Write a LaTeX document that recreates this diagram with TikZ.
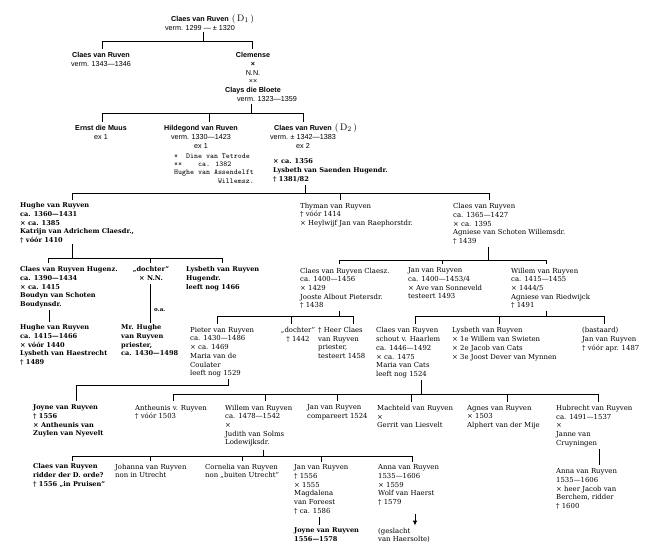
\documentclass[tikz,border=0pt]{standalone}
\usepackage{fontspec}
\usetikzlibrary{arrows.meta,calc}
\newfontfamily\asans{Liberation Sans}
\newfontfamily\dser{DejaVu Serif}
\newcommand\dmark[1]{\rlap{\smash{\rmfamily\fontsize{9.5}{10}\selectfont\ $(\,\mathrm{D}_{#1}\,)$}}}
\begin{document}
\begin{tikzpicture}[x=1pt,y=-1pt,
  lk/.style={line width=1pt},
  sa/.style={inner sep=0pt,anchor=north,align=center,font=\asans\fontsize{7.2}{8.8}\selectfont},
  se/.style={inner sep=0pt,anchor=north west,align=left,font=\dser\fontsize{6.9}{8.7}\selectfont},
  seb/.style={se,font=\dser\bfseries\fontsize{6.6}{8.7}\selectfont},
  mo/.style={inner sep=0pt,anchor=north west,align=left,font=\ttfamily\fontsize{7.5}{8.4}\selectfont},
]
\useasboundingbox (0,0) rectangle (651,554);
\fill[white] (0,0) rectangle (651,554);

% ---- early generations (sans)
\node[sa] (d1) at (200,16) {\textbf{Claes van Ruven}\dmark{1}\\verm. 1299 — ± 1320};
\node[sa] (c1343) at (101,52) {\textbf{Claes van Ruven}\\verm. 1343—1346};
\node[sa] (clem) at (253,52) {\textbf{Clemense}\\\textbf{×}\\N.N.\\××\\\textbf{Clays die Bloete}\\\hspace*{28pt}verm. 1323—1359};
\node[sa] (ernst) at (101,125) {\textbf{Ernst die Muus}\\ex 1};
\node[sa] (hild) at (201,125) {\textbf{Hildegond van Ruven}\\verm. 1330—1423\\ex 1};
\node[sa] (d2) at (303,125) {\textbf{Claes van Ruven}\dmark{2}\\verm. ± 1342—1383\\ex 2};
\node[mo] (hmar) at (174,153.4) {×~~Dine van Tetrode\\××~~~~ca. 1382\\Hughe van Assendelft\\~~~~~~~~~~~Willemsz.};
\node[seb] (d2m) at (273,158.6) {× ca. 1356\\Lysbeth van Saenden Hugendr.\\† 1381/82};

% ---- later generations (serif)
\node[seb] (hughe1) at (20,202.6) {Hughe van Ruyven\\ca. 1360—1431\\× ca. 1385\\Katrijn van Adrichem Claesdr.,\\† vóór 1410};
\node[se] (thyman) at (300,202.6) {Thyman van Ruyven\\† vóór 1414\\× Heylwijf Jan van Raephorstdr.};
\node[se] (claes65) at (453,203.4) {Claes van Ruyven\\ca. 1365—1427\\× ca. 1395\\Agniese van Schoten Willemsdr.\\† 1439};

\node[seb] (claesH) at (20,266.6) {Claes van Ruyven Hugenz.\\ca. 1390—1434\\× ca. 1415\\Boudyn van Schoten\\Boudynsdr.};
\node[seb,anchor=north,align=center] (doch1) at (151,266.6) {„dochter”\\× N.N.};
\node[seb] (lysH) at (186,266.6) {Lysbeth van Ruyven\\Hugendr.\\leeft nog 1466};
\node[se] (claesC) at (300,267.6) {Claes van Ruyven Claesz.\\ca. 1400—1456\\× 1429\\Jooste Albout Pietersdr.\\† 1438};
\node[se] (jan00) at (408,267.6) {Jan van Ruyven\\ca. 1400—1453/4\\× Ave van Sonneveld\\testeert 1493};
\node[se] (willem15) at (511,267.6) {Willem van Ruyven\\ca. 1415—1455\\× 1444/5\\Agniese van Riedwijck\\† 1491};

\node[seb] (hughe15) at (20,324.6) {Hughe van Ruyven\\ca. 1415—1466\\× vóór 1440\\Lysbeth van Haestrecht\\† 1489};
\node[seb] (mrhughe) at (121,324.6) {Mr. Hughe\\van Ruyven\\priester,\\ca. 1430—1498};
\node[seb,font=\dser\bfseries\fontsize{5.6}{6}\selectfont] (oa) at (154,308.8) {o.a.};
\node[se] (pieter) at (190,327) {Pieter van Ruyven\\ca. 1430—1486\\× ca. 1469\\Maria van de\\Coulater\\leeft nog 1529};
\node[se,anchor=north,align=center] (doch2) at (298,327) {„dochter”\\† 1442};
\node[se] (heer) at (318,327) {† Heer Claes\\van Ruyven\\priester,\\testeert 1458};
\node[se] (claesS) at (376,327.5) {Claes van Ruyven\\schout v. Haarlem\\ca. 1446—1492\\× ca. 1475\\Maria van Cats\\leeft nog 1524};
\node[se] (lysS) at (452,327.5) {Lysbeth van Ruyven\\× 1e Willem van Swieten\\× 2e Jacob van Cats\\× 3e Joost Dever van Mynnen};
\node[se] (bast) at (582,327.5) {(bastaard)\\Jan van Ruyven\\† vóór apr. 1487};

\node[seb] (joyne) at (33,404.6) {Joyne van Ruyven\\† 1556\\× Antheunis van\\Zuylen van Nyevelt};
\node[se] (anth) at (135,404.6) {Antheunis v. Ruyven\\† vóór 1503};
\node[se] (willem78) at (225,404.6) {Willem van Ruyven\\ca. 1478—1542\\×\\Judith van Solms\\Lodewijksdr.};
\node[se] (jan24) at (307,404.6) {Jan van Ruyven\\compareert 1524};
\node[se] (macht) at (377,405) {Machteld van Ruyven\\×\\Gerrit van Liesvelt};
\node[se] (agnes) at (467,405) {Agnes van Ruyven\\× 1503\\Alphert van der Mije};
\node[se] (hubr) at (556,405) {Hubrecht van Ruyven\\ca. 1491—1537\\×\\Janne van\\Cruyningen};

\node[seb] (claesR) at (33,463.6) {Claes van Ruyven\\ridder der D. orde?\\† 1556 „in Pruisen”};
\node[se] (johanna) at (115,463.6) {Johanna van Ruyven\\non in Utrecht};
\node[se] (cornelia) at (205,463.6) {Cornelia van Ruyven\\non „buiten Utrecht”};
\node[se] (jan56) at (294,464.6) {Jan van Ruyven\\† 1556\\× 1555\\Magdalena\\van Foreest\\† ca. 1586};
\node[se] (anna1) at (378,464.6) {Anna van Ruyven\\1535—1606\\× 1559\\Wolf van Haerst\\† 1579};
\node[se] (anna2) at (556,468.6) {Anna van Ruyven\\1535—1606\\× heer Jacob van\\Berchem, ridder\\† 1600};
\node[seb] (joyne2) at (294,527.6) {Joyne van Ruyven\\1556—1578};
\node[se] (gesl) at (378,527.6) {(geslacht\\van Haersolte)};

% ---- connectors
% A
\coordinate (jA) at (203,41.5);
\coordinate (tA1) at (102,41.5);
\coordinate (tA2) at (252,41.5);
\draw[lk] ($(jA |- d1.south)+(0,2)$) -- (jA);
\draw[lk] ($(tA1 |- c1343.north)+(0,-3.5)$) -- (tA1) -- (tA2) -- ($(tA2 |- clem.north)+(0,-3.5)$);
% B
\coordinate (jB) at (251,113);
\coordinate (tB1) at (102,113);
\coordinate (tB2) at (209,113);
\coordinate (tB3) at (303,113);
\draw[lk] ($(jB |- clem.south)+(0,2)$) -- (jB);
\draw[lk] ($(tB1 |- ernst.north)+(0,-3.5)$) -- (tB1) -- (tB3) -- ($(tB3 |- d2.north)+(0,-3.5)$);
\draw[lk] (tB2) -- ($(tB2 |- hild.north)+(0,-3.5)$);
% C
\coordinate (jC) at (305,193);
\coordinate (tC1) at (72,193);
\coordinate (tC2) at (340,193);
\coordinate (tC3) at (489,193);
\draw[lk] ($(jC |- d2m.south)+(0,3)$) -- (jC);
\draw[lk] ($(tC1 |- hughe1.north)+(0,-3)$) -- (tC1) -- (tC3) -- ($(tC3 |- claes65.north)+(0,-3)$);
\draw[lk] (tC2) -- ($(tC2 |- thyman.north)+(0,-3)$);
% D
\coordinate (jD) at (72,258);
\coordinate (tD1) at (48,258);
\coordinate (tD2) at (150,258);
\coordinate (tD3) at (222,258);
\draw[lk] ($(jD |- hughe1.south)+(0,1)$) -- (jD);
\draw[lk] ($(tD1 |- claesH.north)+(0,-3.5)$) -- (tD1) -- (tD3) -- ($(tD3 |- lysH.north)+(0,-3.5)$);
\draw[lk] (tD2) -- ($(tD2 |- doch1.north)+(0,-3.5)$);
% E, F
\coordinate (xE) at (49,300);
\draw[lk] ($(xE |- claesH.south)+(0,2)$) -- ($(xE |- hughe15.north)+(0,-3)$);
\coordinate (xF) at (150,300);
\draw[lk] ($(xF |- doch1.south)+(0,3)$) -- ($(xF |- mrhughe.north)+(0,-2)$);
% G
\coordinate (jG) at (488,260);
\coordinate (tG1) at (339,260);
\coordinate (tG2) at (442,260);
\coordinate (tG3) at (546,260);
\draw[lk] ($(jG |- claes65.south)+(0,2)$) -- (jG);
\draw[lk] ($(tG1 |- claesC.north)+(0,-3.5)$) -- (tG1) -- (tG3) -- ($(tG3 |- willem15.north)+(0,-3.5)$);
\draw[lk] (tG2) -- ($(tG2 |- jan00.north)+(0,-3.5)$);
% H
\coordinate (jH) at (339,316.5);
\coordinate (tH1) at (217,316.5);
\coordinate (tH2) at (291,316.5);
\coordinate (tH3) at (353,316.5);
\draw[lk] ($(jH |- claesC.south)+(0,2)$) -- (jH);
\draw[lk] ($(tH1 |- pieter.north)+(0,-3.5)$) -- (tH1) -- (tH3) -- ($(tH3 |- heer.north)+(0,-3.5)$);
\draw[lk] (tH2) -- ($(tH2 |- doch2.north)+(0,-3.5)$);
% I
\coordinate (jI) at (546,316.5);
\coordinate (tI1) at (415,316.5);
\coordinate (tI2) at (499,316.5);
\coordinate (tI3) at (604,316.5);
\draw[lk] ($(jI |- willem15.south)+(0,2)$) -- (jI);
\draw[lk] ($(tI1 |- claesS.north)+(0,-3.5)$) -- (tI1) -- (tI3) -- ($(tI3 |- bast.north)+(0,-3.5)$);
\draw[lk] (tI2) -- ($(tI2 |- lysS.north)+(0,-3.5)$);
% J
\coordinate (jJ) at (228,385);
\coordinate (tJ) at (76,385);
\draw[lk] ($(jJ |- pieter.south)+(0,1.5)$) -- (jJ) -- (tJ) -- ($(tJ |- joyne.north)+(0,-3.5)$);
% K
\coordinate (jK) at (421,394);
\coordinate (tK1) at (173,394);
\coordinate (tK2) at (265,394);
\coordinate (tK3) at (337,394);
\coordinate (tK4) at (411,394);
\coordinate (tK5) at (507,394);
\coordinate (tK6) at (598,394);
\draw[lk] ($(jK |- claesS.south)+(0,1.5)$) -- (jK);
\draw[lk] ($(tK1 |- anth.north)+(0,-3.5)$) -- (tK1) -- (tK6) -- ($(tK6 |- hubr.north)+(0,-3.5)$);
\draw[lk] (tK2) -- ($(tK2 |- willem78.north)+(0,-3.5)$);
\draw[lk] (tK3) -- ($(tK3 |- jan24.north)+(0,-3.5)$);
\draw[lk] (tK4) -- ($(tK4 |- macht.north)+(0,-3.5)$);
\draw[lk] (tK5) -- ($(tK5 |- agnes.north)+(0,-3.5)$);
% L
\coordinate (jL) at (263,456);
\coordinate (tL1) at (72,456);
\coordinate (tL2) at (150,456);
\coordinate (tL3) at (242,456);
\coordinate (tL4) at (321,456);
\coordinate (tL5) at (412,456);
\draw[lk] ($(jL |- willem78.south)+(0,3)$) -- (jL);
\draw[lk] ($(tL1 |- claesR.north)+(0,-3)$) -- (tL1) -- (tL5) -- ($(tL5 |- anna1.north)+(0,-3)$);
\draw[lk] (tL2) -- ($(tL2 |- johanna.north)+(0,-3)$);
\draw[lk] (tL3) -- ($(tL3 |- cornelia.north)+(0,-3)$);
\draw[lk] (tL4) -- ($(tL4 |- jan56.north)+(0,-3)$);
% M, N, O
\coordinate (xM) at (599,450);
\draw[lk] ($(xM |- hubr.south)+(0,2)$) -- ($(xM |- anna2.north)+(0,-3.5)$);
\coordinate (xN) at (319,520);
\draw[lk] ($(xN |- jan56.south)+(0,3)$) -- ($(xN |- joyne2.north)+(0,-3)$);
\coordinate (xO) at (415,520);
\draw[lk,-{Latex[length=5pt,width=4.5pt]}] ($(xO |- anna1.south)+(0,9)$) -- ($(xO |- gesl.north)+(0,-2)$);
\end{tikzpicture}
\end{document}
